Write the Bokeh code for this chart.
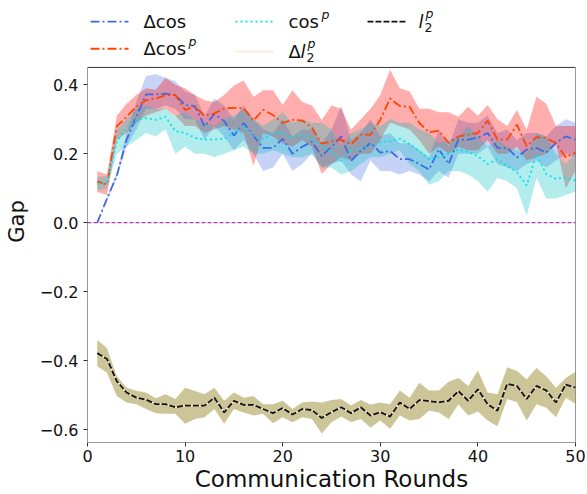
from bokeh.plotting import figure
from bokeh.models import Span, CustomJSTickFormatter, FixedTicker, Range1d
from bokeh.core.properties import value
from bokeh.embed import file_html
from bokeh.resources import INLINE

rounds = list(range(1, 51))

dcos = [0.00, 0.07, 0.136, 0.24, 0.307, 0.372, 0.372, 0.374, 0.37, 0.341,
        0.338, 0.279, 0.315, 0.295, 0.252, 0.289, 0.252, 0.217, 0.217, 0.243,
        0.2, 0.22, 0.235, 0.193, 0.22, 0.25, 0.179, 0.208, 0.231, 0.203,
        0.208, 0.184, 0.184, 0.17, 0.154, 0.213, 0.17, 0.241, 0.241, 0.246,
        0.26, 0.217, 0.217, 0.189, 0.212, 0.217, 0.203, 0.231, 0.25, 0.241]
dcos_hi = [0.0, 0.075, 0.145, 0.26, 0.35, 0.425, 0.43, 0.42, 0.41, 0.38,
           0.37, 0.31, 0.36, 0.34, 0.3, 0.34, 0.3, 0.27, 0.26, 0.3,
           0.25, 0.27, 0.27, 0.23, 0.27, 0.34, 0.24, 0.26, 0.3, 0.25,
           0.26, 0.23, 0.23, 0.21, 0.19, 0.27, 0.22, 0.3, 0.29, 0.29,
           0.31, 0.26, 0.27, 0.24, 0.26, 0.26, 0.25, 0.28, 0.3, 0.29]
dcos_lo = [0.0, 0.065, 0.13, 0.22, 0.27, 0.33, 0.33, 0.34, 0.33, 0.30,
           0.30, 0.24, 0.28, 0.25, 0.21, 0.24, 0.2, 0.15, 0.16, 0.2,
           0.15, 0.17, 0.2, 0.16, 0.17, 0.18, 0.14, 0.12, 0.18, 0.15,
           0.15, 0.14, 0.15, 0.14, 0.12, 0.15, 0.13, 0.2, 0.2, 0.2,
           0.22, 0.17, 0.16, 0.15, 0.17, 0.18, 0.16, 0.18, 0.2, 0.19]

dcosp = [0.12, 0.111, 0.279, 0.307, 0.336, 0.355, 0.36, 0.37, 0.37, 0.327,
         0.336, 0.31, 0.317, 0.331, 0.333, 0.332, 0.296, 0.327, 0.312, 0.289,
         0.298, 0.296, 0.275, 0.229, 0.236, 0.241, 0.227, 0.255, 0.255, 0.298,
         0.36, 0.338, 0.336, 0.289, 0.262, 0.267, 0.231, 0.25, 0.255, 0.26,
         0.296, 0.241, 0.241, 0.284, 0.222, 0.248, 0.245, 0.231, 0.19, 0.203]
dcosp_hi = [0.149, 0.14, 0.31, 0.345, 0.37, 0.39, 0.385, 0.42, 0.40, 0.39,
            0.37, 0.355, 0.35, 0.37, 0.398, 0.412, 0.365, 0.384, 0.384, 0.341,
            0.384, 0.35, 0.34, 0.298, 0.34, 0.33, 0.27, 0.3, 0.33, 0.37,
            0.443, 0.39, 0.38, 0.33, 0.33, 0.32, 0.32, 0.307, 0.336, 0.31,
            0.341, 0.3, 0.28, 0.327, 0.27, 0.365, 0.345, 0.28, 0.28, 0.28]
dcosp_lo = [0.089, 0.08, 0.24, 0.26, 0.29, 0.31, 0.32, 0.33, 0.31, 0.28,
            0.28, 0.26, 0.27, 0.28, 0.27, 0.26, 0.165, 0.26, 0.25, 0.23,
            0.22, 0.24, 0.22, 0.141, 0.17, 0.19, 0.18, 0.2, 0.2, 0.24,
            0.29, 0.28, 0.27, 0.24, 0.2, 0.22, 0.2, 0.22, 0.21, 0.21,
            0.24, 0.2, 0.2, 0.22, 0.18, 0.19, 0.2, 0.23, 0.1, 0.15]

cosp = [0.112, 0.117, 0.236, 0.274, 0.298, 0.303, 0.298, 0.307, 0.265, 0.26,
        0.246, 0.241, 0.241, 0.243, 0.26, 0.28, 0.25, 0.243, 0.26, 0.26,
        0.245, 0.255, 0.24, 0.222, 0.205, 0.179, 0.208, 0.215, 0.222, 0.233,
        0.236, 0.243, 0.227, 0.208, 0.184, 0.19, 0.2, 0.212, 0.205, 0.193,
        0.17, 0.184, 0.165, 0.146, 0.108, 0.198, 0.141, 0.127, 0.131, 0.122]
cosp_hi = [0.133, 0.135, 0.27, 0.3, 0.33, 0.34, 0.33, 0.33, 0.31, 0.32,
           0.3, 0.29, 0.28, 0.3, 0.31, 0.33, 0.3, 0.28, 0.3, 0.32,
           0.29, 0.3, 0.29, 0.29, 0.27, 0.22, 0.26, 0.27, 0.29, 0.28,
           0.3, 0.29, 0.29, 0.27, 0.26, 0.23, 0.24, 0.25, 0.28, 0.25,
           0.22, 0.24, 0.22, 0.21, 0.2, 0.26, 0.25, 0.2, 0.17, 0.2]
cosp_lo = [0.093, 0.1, 0.2, 0.22, 0.24, 0.26, 0.25, 0.27, 0.2, 0.22,
           0.2, 0.2, 0.19, 0.2, 0.21, 0.22, 0.2, 0.2, 0.21, 0.2,
           0.19, 0.19, 0.2, 0.16, 0.16, 0.14, 0.15, 0.17, 0.19, 0.19,
           0.2, 0.21, 0.17, 0.15, 0.11, 0.12, 0.15, 0.15, 0.14, 0.12,
           0.09, 0.13, 0.12, 0.1, 0.02, 0.13, 0.07, 0.07, 0.08, 0.09]

l2p = [-0.378, -0.395, -0.459, -0.492, -0.507, -0.513, -0.526, -0.526, -0.535, -0.53,
       -0.53, -0.53, -0.507, -0.55, -0.516, -0.528, -0.528, -0.54, -0.552, -0.537,
       -0.556, -0.54, -0.543, -0.566, -0.549, -0.535, -0.552, -0.535, -0.559, -0.549,
       -0.562, -0.521, -0.54, -0.514, -0.517, -0.521, -0.516, -0.488, -0.516, -0.483,
       -0.526, -0.545, -0.467, -0.473, -0.511, -0.473, -0.486, -0.521, -0.469, -0.478]
l2p_hi = [-0.34, -0.364, -0.445, -0.478, -0.487, -0.492, -0.509, -0.497, -0.511, -0.478,
          -0.488, -0.497, -0.478, -0.516, -0.492, -0.507, -0.502, -0.526, -0.526, -0.516,
          -0.54, -0.521, -0.518, -0.521, -0.514, -0.511, -0.53, -0.514, -0.527, -0.521,
          -0.526, -0.486, -0.507, -0.464, -0.486, -0.486, -0.461, -0.45, -0.473, -0.428,
          -0.492, -0.497, -0.419, -0.43, -0.454, -0.421, -0.445, -0.478, -0.45, -0.432]
l2p_lo = [-0.416, -0.435, -0.502, -0.521, -0.526, -0.54, -0.552, -0.554, -0.554, -0.583,
          -0.569, -0.564, -0.54, -0.583, -0.54, -0.55, -0.559, -0.554, -0.581, -0.564,
          -0.578, -0.564, -0.569, -0.611, -0.578, -0.562, -0.578, -0.569, -0.594, -0.573,
          -0.597, -0.559, -0.573, -0.569, -0.545, -0.55, -0.569, -0.526, -0.559, -0.547,
          -0.573, -0.59, -0.511, -0.52, -0.573, -0.526, -0.536, -0.564, -0.507, -0.525]

x_ticks = [0, 10, 20, 30, 40, 50]
y_ticks = [-0.6, -0.4, -0.2, 0.0, 0.2, 0.4]

FONT = "DejaVu Sans"
C_DCOS = "royalblue"
C_DCOSP = "orangered"
C_COSP = "#00e5ee"
C_DL2P = "#fcebd0"
C_L2P = "#111111"
DASH_DCOS = "9 3 2 3"
DASH_COSP = "2 3"
DASH_L2P = "6 2"

# axes box and the legend strip above it share one frame
W, H = 587, 494
LEFT, RIGHT, BOTTOM, STRIP = 87, 12, 45, 68
X0, X1 = 0, 50
Y0, Y1 = -0.637, 0.45
FRAME_H = H - BOTTOM
PX_UNIT = (FRAME_H - STRIP) / (Y1 - Y0)
Y_TOP = Y1 + STRIP / PX_UNIT
PX_ROUND = (W - LEFT - RIGHT) / (X1 - X0)

def sx(px):   # page pixel -> x data unit (layout of legend only)
    return X0 + (px - LEFT) / PX_ROUND

def sy(py):   # page pixel -> y data unit (layout of legend only)
    return Y_TOP - py / PX_UNIT

p = figure(width=W, height=H, output_backend="svg", toolbar_location=None,
           x_range=Range1d(X0, X1), y_range=Range1d(Y0, Y_TOP),
           min_border_left=LEFT, min_border_right=RIGHT, min_border_top=0,
           min_border_bottom=BOTTOM)
p.background_fill_color = "white"
p.border_fill_color = "white"
p.outline_line_color = None
p.xgrid.visible = False
p.ygrid.visible = False

p.varea(x=rounds, y1=dcos_lo, y2=dcos_hi, fill_color="royalblue", fill_alpha=0.3)
p.varea(x=rounds, y1=dcosp_lo, y2=dcosp_hi, fill_color="red", fill_alpha=0.32)
p.varea(x=rounds, y1=cosp_lo, y2=cosp_hi, fill_color="#00bfbf", fill_alpha=0.3)
p.varea(x=rounds, y1=l2p_lo, y2=l2p_hi, fill_color="#b0a660", fill_alpha=0.65)

p.add_layout(Span(location=0, dimension="width", line_color="#b03ab8", line_width=1.2,
                  line_dash="4 2"))

p.line(rounds, dcos, line_color=C_DCOS, line_width=1.8, line_dash=DASH_DCOS)
p.line(rounds, dcosp, line_color=C_DCOSP, line_width=1.8, line_dash=DASH_DCOS)
p.line(rounds, cosp, line_color=C_COSP, line_width=1.8, line_dash=DASH_COSP)
p.line(rounds, l2p, line_color=C_DL2P, line_width=1.8)
p.line(rounds, l2p, line_color=C_L2P, line_width=1.8, line_dash=DASH_L2P)

# axes box
p.quad(left=[X0], right=[X1], bottom=[Y0], top=[Y1], fill_color=None,
       line_color="#333333", line_width=1)

for ax in (p.xaxis[0], p.yaxis[0]):
    ax.axis_line_color = None
    ax.major_tick_line_color = "#333333"
    ax.major_tick_out = 4
    ax.major_tick_in = 0
    ax.minor_tick_line_color = None
    ax.major_label_text_font = FONT
    ax.major_label_text_font_size = "16px"
    ax.major_label_text_color = "#111111"
    ax.axis_label_text_font = FONT
    ax.axis_label_text_font_style = "normal"
    ax.axis_label_text_color = "#111111"

p.xaxis.ticker = FixedTicker(ticks=x_ticks)
p.yaxis.ticker = FixedTicker(ticks=y_ticks)
p.yaxis.formatter = CustomJSTickFormatter(code="""
    const v = Math.abs(tick) < 1e-9 ? 0 : tick;
    return (v < 0 ? "\u2212" : "") + Math.abs(v).toFixed(1);
""")
p.xaxis.axis_label = "Communication Rounds"
p.xaxis.axis_label_text_font_size = "23px"
p.xaxis.axis_label_standoff = 1
p.yaxis.axis_label = "Gap"
p.yaxis.axis_label_text_font_size = "21px"
p.yaxis.axis_label_standoff = 8
p.xaxis.major_label_standoff = 3

# ---------------- legend (in the strip above the axes box) ----------------
R1, R2 = 21.5, 49

def sample(x0, y, color, dash=None):
    kw = dict(line_color=color, line_width=1.8)
    if dash:
        kw["line_dash"] = dash
    p.line([sx(x0), sx(x0 + 38)], [sy(y), sy(y)], **kw)

def txt(x, y, s, size="18px", style="normal"):
    p.text(x=[sx(x)], y=[sy(y)], text=[s], text_font=value(FONT), text_font_size=size,
           text_font_style=style, text_baseline="middle", text_align="left",
           text_color="#111111")

sample(90, R1, C_DCOS, DASH_DCOS)
txt(143, R1, "\u0394cos")
sample(90, R2, C_DCOSP, DASH_DCOS)
txt(143, R2, "\u0394cos")
txt(188, R2 - 7.5, "p", size="12.5px", style="italic")

sample(235, R1, C_COSP, DASH_COSP)
txt(288, R1, "cos")
txt(321, R1 - 7.5, "p", size="12.5px", style="italic")
sample(235, R2 + 3, C_DL2P)
txt(288, R2 + 3, "\u0394")
txt(300, R2 + 3, "l", style="italic")
txt(307, R2 - 5, "p", size="12.5px", style="italic")
txt(306, R2 + 9, "2", size="12.5px")

sample(367, R1, C_L2P, DASH_L2P)
txt(418, R1, "l", style="italic")
txt(425, R1 - 8, "p", size="12.5px", style="italic")
txt(424, R1 + 6, "2", size="12.5px")

open("out.html", "w").write(file_html(p, INLINE))
